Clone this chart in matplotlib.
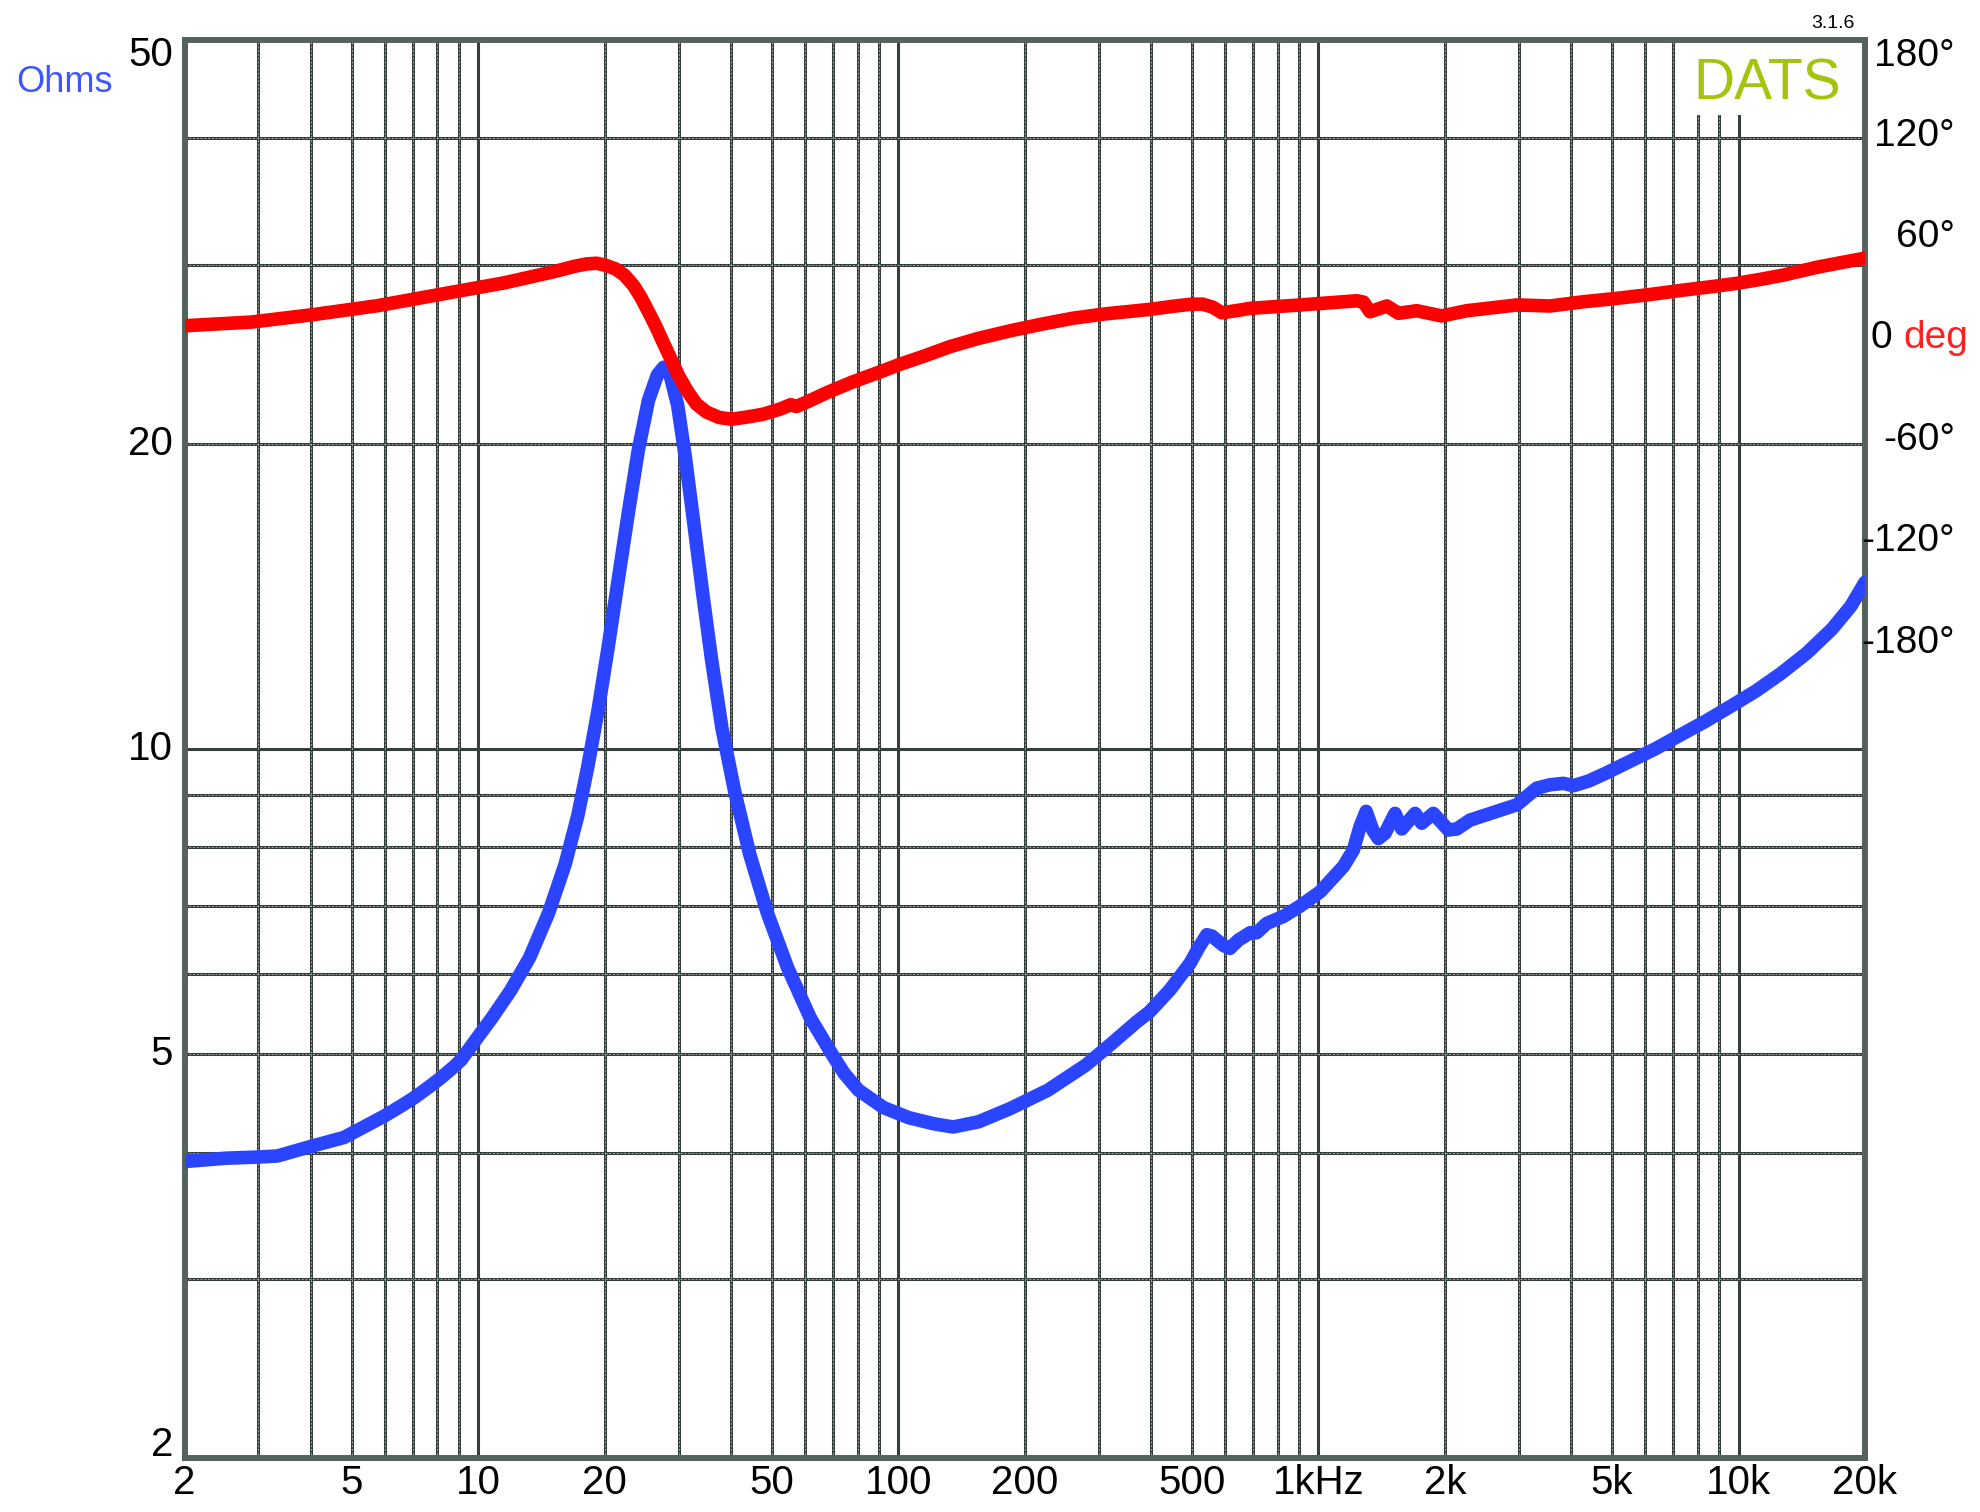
import matplotlib
matplotlib.use('Agg')
import matplotlib.pyplot as plt
import matplotlib.transforms as mtransforms
from matplotlib.patches import Rectangle

plt.rcParams['font.family'] = ['Liberation Sans', 'DejaVu Sans']
plt.rcParams['lines.scale_dashes'] = False

# impedance magnitude (Ohms)
imp_freq = [2.0, 2.51, 2.98, 3.33, 3.94, 4.79, 5.4, 6.0, 6.63, 7.09, 7.62, 8.15, 8.75,
            9.12, 9.71, 10.78, 11.95, 13.26, 14.71, 16.11, 17.26, 18.24, 19.28, 20.38,
            21.55, 22.78, 24.07, 25.44, 26.71, 27.64, 28.62, 29.84, 31.1, 32.65, 34.27,
            35.97, 38.02, 40.75, 44.28, 48.8, 54.5, 61.75, 69.98, 74.3, 80.36, 92.3,
            106, 121.8, 135.1, 155.2, 184.5, 227.2, 279.7, 321.2, 369, 397, 443.5, 495,
            520, 542.5, 558, 573, 595, 616, 630, 645, 688, 713, 753, 826, 904, 1009,
            1147, 1211, 1257, 1299, 1347, 1389, 1441, 1522, 1579, 1699, 1762, 1877, 2039,
            2135, 2296, 2658, 2966, 3309, 3561, 3830, 4045, 4400, 4792, 5506, 6325, 7262,
            8346, 9589, 11010, 12650, 14530, 16690, 18510, 20000]
imp_ohms = [3.92, 3.95, 3.96, 3.97, 4.05, 4.14, 4.25, 4.35, 4.46, 4.54, 4.64, 4.74, 4.86,
            4.94, 5.12, 5.43, 5.78, 6.23, 6.89, 7.70, 8.59, 9.61, 10.9, 12.58,
            14.69, 17.1, 19.74, 22.08, 23.38, 23.79, 23.38, 21.83, 19.45, 16.62, 14.19,
            12.22, 10.5, 9.1, 7.88, 6.89, 6.09, 5.43, 4.98, 4.79, 4.61, 4.43,
            4.33, 4.27, 4.24, 4.29, 4.42, 4.61, 4.88, 5.12, 5.38, 5.51, 5.79, 6.15,
            6.38, 6.56, 6.54, 6.48, 6.4, 6.36, 6.42, 6.48, 6.59, 6.59, 6.73, 6.84, 7.0, 7.23,
            7.66, 7.95, 8.39, 8.68, 8.32, 8.16, 8.26, 8.64, 8.34, 8.64, 8.45, 8.64, 8.32,
            8.34, 8.51, 8.68, 8.81, 9.15, 9.22, 9.25, 9.2, 9.3, 9.45, 9.72, 10.0, 10.32,
            10.65, 11.02, 11.41, 11.88, 12.43, 13.13, 13.83, 14.6]

# impedance phase (degrees)
ph_freq = [2.0, 2.89, 4.08, 5.77, 8.17, 11.54, 15.2, 16.9, 18.12, 19.14, 20.1, 21.25,
           22.3, 23.42, 24.38, 25.44, 26.53, 27.64, 28.82, 30.04, 31.52, 33.09, 34.98,
           37.49, 40.18, 43.67, 47.79, 52.31, 55.5, 57.2, 60.9, 67.6, 77.6, 92.3, 99.9,
           115, 132.6, 155, 184.6, 220, 261, 310, 369, 397, 450, 495, 530, 560, 589, 640,
           688, 904, 1234, 1280, 1327, 1390, 1455, 1551, 1715, 1966, 2255, 2966, 3561,
           4272, 5131, 6158, 7393, 8600, 9906, 11300, 12790, 15360, 17500, 20000]
ph_deg = [7.5, 9.7, 14.2, 19.4, 26.2, 32.9, 39.6, 42.6, 44.1, 44.5, 43.3, 41.1,
          37.4, 31.4, 24.5, 15.7, 6.7, -3.0, -12.7, -22.4, -31.4, -38.9, -43.6,
          -46.8, -47.8, -46.5, -44.8, -41.8, -39.2, -40.3, -37.4, -32.1, -25.9, -19.0, -15.7,
          -10.5, -4.9, 0.0, 4.5, 8.5, 12.0, 14.5, 16.4, 17.2, 19.0, 20.2, 20.3, 18.5, 15.2, 16.5,
          17.8, 19.8, 22.3, 21.5, 15.8, 17.5, 19.2, 14.9, 16.4, 13.3, 16.4, 19.8, 19.2,
          21.7, 23.7, 26.0, 28.6, 30.6, 32.6, 35.0, 37.5, 42.1, 44.8, 47.5]

x_ticks = [2, 5, 10, 20, 50, 100, 200, 500, 1000, 2000, 5000, 10000, 20000]
x_labels = ['2', '5', '10', '20', '50', '100', '200', '500', '1kHz', '2k', '5k', '10k', '20k']
y_ticks = [2, 5, 10, 20, 50]
y_labels = ['2', '5', '10', '20', '50']
ph_ticks = [180, 120, 60, -60, -120, -180]
ph_labels = ['180°', '120°', '60°', '-60°', '-120°', '-180°']

W, H = 1980, 1512
fig = plt.figure(figsize=(W / 100, H / 100), dpi=100)
ax = fig.add_axes([184.5 / W, (H - 1458) / H, (1865 - 184.5) / W, (1458 - 40) / H])
ax.set_xscale('log')
ax.set_yscale('log')
ax.set_xlim(2, 20000)
ax.set_ylim(2, 50)

grid_c = '#353d3d'
# frequency grid
for d in range(0, 5):
    for m in range(1, 10):
        f = m * 10 ** d
        if f <= 2 or f >= 20000:
            continue
        ax.axvline(f, color=grid_c, lw=2.2, zorder=1)
        if m != 1:
            ax.axvline(f, color='#aab2b2', lw=0.6, dashes=(1.5, 1.2), zorder=1.1)
# ohm grid
for r in [3, 4, 5, 6, 7, 8, 9, 10, 20, 30, 40]:
    ax.axhline(r, color=grid_c, lw=2.2, zorder=1)
    if r != 10:
        ax.axhline(r, color='#aab2b2', lw=0.6, dashes=(1.5, 1.2), zorder=1.1)

# white box behind the logo
ax.add_patch(Rectangle((0.898, 0.947), 0.102, 0.053, transform=ax.transAxes,
                       facecolor='white', edgecolor='none', zorder=2))

ax.plot(imp_freq, imp_ohms, color='#2b44ff', lw=9.8, solid_capstyle='round',
        solid_joinstyle='round', zorder=3)

ax.set_xticks(x_ticks, x_labels)
ax.set_yticks([])
ax.minorticks_off()
ax.tick_params(axis='x', length=0, labelsize=29, pad=4)
for s in ax.spines.values():
    s.set_color('#55635f')
    s.set_linewidth(4.3)

# left labels
tl = mtransforms.blended_transform_factory(fig.transFigure, ax.transData)
for v, t in zip(y_ticks, y_labels):
    dy = -11 if v == 50 else (9 if v == 2 else 0)
    tr = mtransforms.offset_copy(tl, fig=fig, y=dy, units='points')
    ax.text(173 / W, v, t, transform=tr, ha='right', va='center', fontsize=29)

# phase axis
ax2 = ax.twinx()
ax2.set_ylim(-662.5, 176.6)
ax2.set_yticks([])
for s in ax2.spines.values():
    s.set_visible(False)
ax2.plot(ph_freq, ph_deg, color='#fe0000', lw=9.8, solid_capstyle='round',
         solid_joinstyle='round', zorder=3)

tr2 = mtransforms.blended_transform_factory(fig.transFigure, ax2.transData)
for v, t in zip(ph_ticks, ph_labels):
    dy = -16 if v == 180 else 0
    tr = mtransforms.offset_copy(tr2, fig=fig, y=dy, units='points')
    ax2.text(1955 / W, v, t, transform=tr, ha='right', va='center', fontsize=28)
ax2.text(1892 / W, 0, '0', transform=tr2, ha='right', va='center', fontsize=28)
ax2.text(1903 / W, 0, 'deg', transform=tr2, ha='left', va='center', fontsize=28,
         color='#ff2020')

fig.text(65 / W, 1 - 83 / H, 'Ohms', ha='center', va='center', fontsize=26, color='#3d55ff')
fig.text(1833 / W, 1 - 24 / H, '3.1.6', ha='center', va='center', fontsize=14)
fig.text(1693 / W, 1 - 100 / H, 'DATS', ha='left', va='baseline', fontsize=41,
         color='#a3c40c')

fig.savefig('out.png', dpi=100)
